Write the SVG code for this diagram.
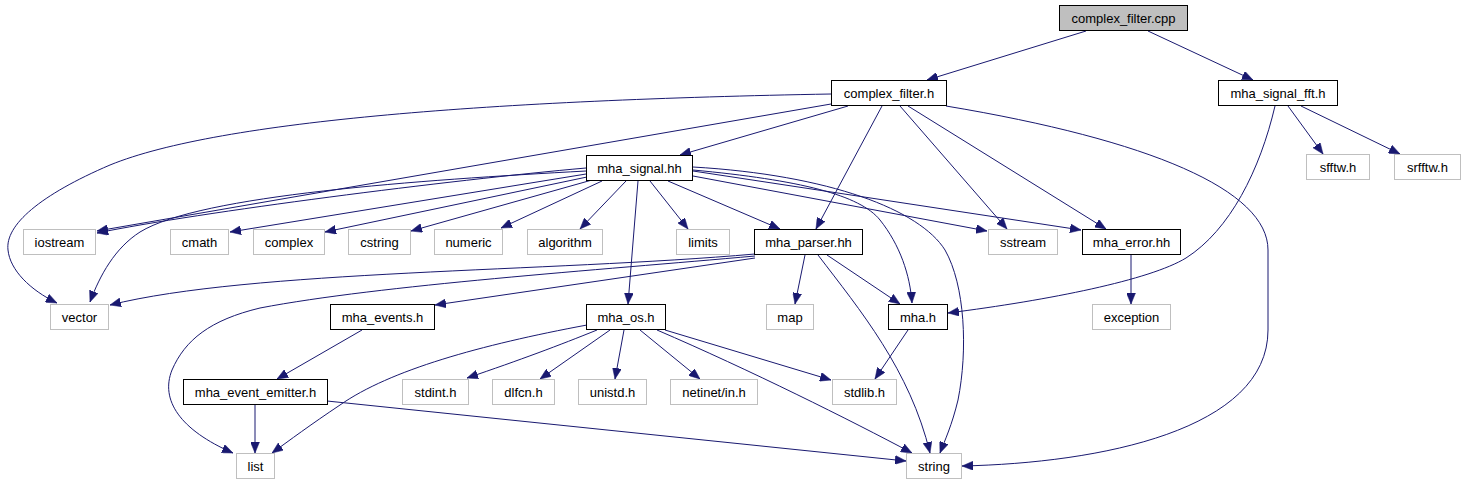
<svg xmlns="http://www.w3.org/2000/svg" width="1466" height="485" viewBox="0 0 1466 485">
<style>
.n rect{fill:#fff;stroke:#000;stroke-width:1}
.g rect{fill:#fff;stroke:#bfbfbf;stroke-width:1}
.root rect{fill:#bfbfbf;stroke:#000;stroke-width:1}
text{font-family:"Liberation Sans",Arial,sans-serif;font-size:13px;fill:#000;text-anchor:middle}
#edges path{fill:none;stroke:#191970;stroke-width:1;marker-end:url(#arr)}
</style>
<defs>
<marker id="arr" viewBox="0 0 11 9" refX="11" refY="4.5" markerWidth="11" markerHeight="9" markerUnits="userSpaceOnUse" orient="auto">
<path d="M0,0 L11,4.5 L0,9 z" fill="#191970" stroke="#191970" stroke-width="0.5"/>
</marker>
</defs>
<rect width="1466" height="485" fill="#fff"/>
<g id="edges">
<path d="M1086,31 L927,80"/>
<path d="M1148,31 L1253,80"/>
<path d="M831,94 C 500,100 220,120 110,165 C 40,195 5,225 8,250 C 10,270 30,290 57,303"/>
<path d="M831,104 L97,231"/>
<path d="M848,106 L680,155"/>
<path d="M882,106 L816,229"/>
<path d="M900,106 L1007,229"/>
<path d="M908,106 L1106,229"/>
<path d="M946,106 C 1150,140 1268,190 1268,250 L1268,330 C 1268,430 1100,463 962,466"/>
<path d="M1275,106 C 1260,170 1230,230 1186,258 C 1150,280 1050,300 948,313"/>
<path d="M1288,106 L1323,154"/>
<path d="M1301,106 L1400,154"/>
<path d="M586,168 C 450,180 200,212 97,233"/>
<path d="M586,171 C 420,180 200,195 140,232 C 115,248 100,275 90,302"/>
<path d="M586,174 L230,232"/>
<path d="M587,177 L325,232"/>
<path d="M592,180 L411,231"/>
<path d="M602,181 L501,228"/>
<path d="M626,181 L580,229"/>
<path d="M650,181 L688,229"/>
<path d="M668,181 L780,229"/>
<path d="M638,181 L628,304"/>
<path d="M693,170 C 800,180 860,195 880,220 C 900,245 910,275 912,303"/>
<path d="M693,167 C 830,175 920,210 945,250 C 965,285 968,350 958,400 C 952,425 945,440 940,453"/>
<path d="M693,176 L987,231"/>
<path d="M693,171 L1081,230"/>
<path d="M755,254 C 550,272 250,270 110,305"/>
<path d="M755,258 L435,305"/>
<path d="M755,256 C 600,270 380,285 260,308 C 210,320 185,340 172,370 C 160,400 180,430 233,453"/>
<path d="M805,255 L795,304"/>
<path d="M827,255 L900,304"/>
<path d="M818,255 C 860,310 910,370 930,453"/>
<path d="M362,330 L277,379"/>
<path d="M587,325 C 480,345 390,370 340,405 C 310,425 290,440 272,453"/>
<path d="M597,330 C 560,345 520,360 467,378"/>
<path d="M610,330 L540,379"/>
<path d="M624,330 L615,379"/>
<path d="M640,330 L700,379"/>
<path d="M665,330 L831,380"/>
<path d="M657,330 C 750,370 850,420 912,453"/>
<path d="M908,330 L875,379"/>
<path d="M1131,255 L1131,304"/>
<path d="M255,404 L255,453"/>
<path d="M327,401 L906,461"/>
</g>
<g id="complex_filter_cpp" class="root"><rect x="1059.5" y="5.5" width="128" height="25"/><text x="1123.5" y="22.5">complex_filter.cpp</text></g>
<g id="complex_filter_h" class="n"><rect x="831.5" y="80.5" width="115" height="25"/><text x="889" y="97.5">complex_filter.h</text></g>
<g id="mha_signal_fft_h" class="n"><rect x="1218.5" y="80.5" width="119" height="25"/><text x="1278" y="97.5">mha_signal_fft.h</text></g>
<g id="sfftw_h" class="g"><rect x="1306.5" y="154.5" width="63" height="25"/><text x="1338" y="171.5">sfftw.h</text></g>
<g id="srfftw_h" class="g"><rect x="1394.5" y="154.5" width="66" height="25"/><text x="1427.5" y="171.5">srfftw.h</text></g>
<g id="mha_signal_hh" class="n"><rect x="586.5" y="155.5" width="106" height="25"/><text x="639.5" y="172.5">mha_signal.hh</text></g>
<g id="iostream" class="g"><rect x="23.5" y="229.5" width="72" height="25"/><text x="59.5" y="246.5">iostream</text></g>
<g id="cmath" class="g"><rect x="170.5" y="229.5" width="58" height="25"/><text x="199.5" y="246.5">cmath</text></g>
<g id="complex" class="g"><rect x="253.5" y="229.5" width="71" height="25"/><text x="289" y="246.5">complex</text></g>
<g id="cstring" class="g"><rect x="348.5" y="229.5" width="62" height="25"/><text x="379.5" y="246.5">cstring</text></g>
<g id="numeric" class="g"><rect x="434.5" y="229.5" width="68" height="25"/><text x="468.5" y="246.5">numeric</text></g>
<g id="algorithm" class="g"><rect x="527.5" y="229.5" width="75" height="25"/><text x="565" y="246.5">algorithm</text></g>
<g id="limits" class="g"><rect x="676.5" y="229.5" width="53" height="25"/><text x="703" y="246.5">limits</text></g>
<g id="mha_parser_hh" class="n"><rect x="754.5" y="229.5" width="108" height="25"/><text x="808.5" y="246.5">mha_parser.hh</text></g>
<g id="sstream" class="g"><rect x="988.5" y="229.5" width="69" height="25"/><text x="1023" y="246.5">sstream</text></g>
<g id="mha_error_hh" class="n"><rect x="1082.5" y="229.5" width="98" height="25"/><text x="1131.5" y="246.5">mha_error.hh</text></g>
<g id="vector" class="g"><rect x="50.5" y="304.5" width="58" height="25"/><text x="79.5" y="321.5">vector</text></g>
<g id="mha_events_h" class="n"><rect x="330.5" y="304.5" width="104" height="25"/><text x="382.5" y="321.5">mha_events.h</text></g>
<g id="mha_os_h" class="n"><rect x="586.5" y="304.5" width="79" height="25"/><text x="626" y="321.5">mha_os.h</text></g>
<g id="map" class="g"><rect x="766.5" y="304.5" width="47" height="25"/><text x="790" y="321.5">map</text></g>
<g id="mha_h" class="n"><rect x="888.5" y="304.5" width="59" height="25"/><text x="918" y="321.5">mha.h</text></g>
<g id="exception" class="g"><rect x="1092.5" y="304.5" width="78" height="25"/><text x="1131.5" y="321.5">exception</text></g>
<g id="mha_event_emitter_h" class="n"><rect x="183.5" y="379.5" width="144" height="25"/><text x="255.5" y="396.5">mha_event_emitter.h</text></g>
<g id="stdint_h" class="g"><rect x="402.5" y="379.5" width="66" height="25"/><text x="435.5" y="396.5">stdint.h</text></g>
<g id="dlfcn_h" class="g"><rect x="492.5" y="379.5" width="62" height="25"/><text x="523.5" y="396.5">dlfcn.h</text></g>
<g id="unistd_h" class="g"><rect x="578.5" y="379.5" width="68" height="25"/><text x="612.5" y="396.5">unistd.h</text></g>
<g id="netinet_in_h" class="g"><rect x="670.5" y="379.5" width="87" height="25"/><text x="714" y="396.5">netinet/in.h</text></g>
<g id="stdlib_h" class="g"><rect x="832.5" y="379.5" width="64" height="25"/><text x="864.5" y="396.5">stdlib.h</text></g>
<g id="list" class="g"><rect x="236.5" y="453.5" width="38" height="25"/><text x="255.5" y="470.5">list</text></g>
<g id="string" class="g"><rect x="906.5" y="453.5" width="55" height="25"/><text x="934" y="470.5">string</text></g>
</svg>
